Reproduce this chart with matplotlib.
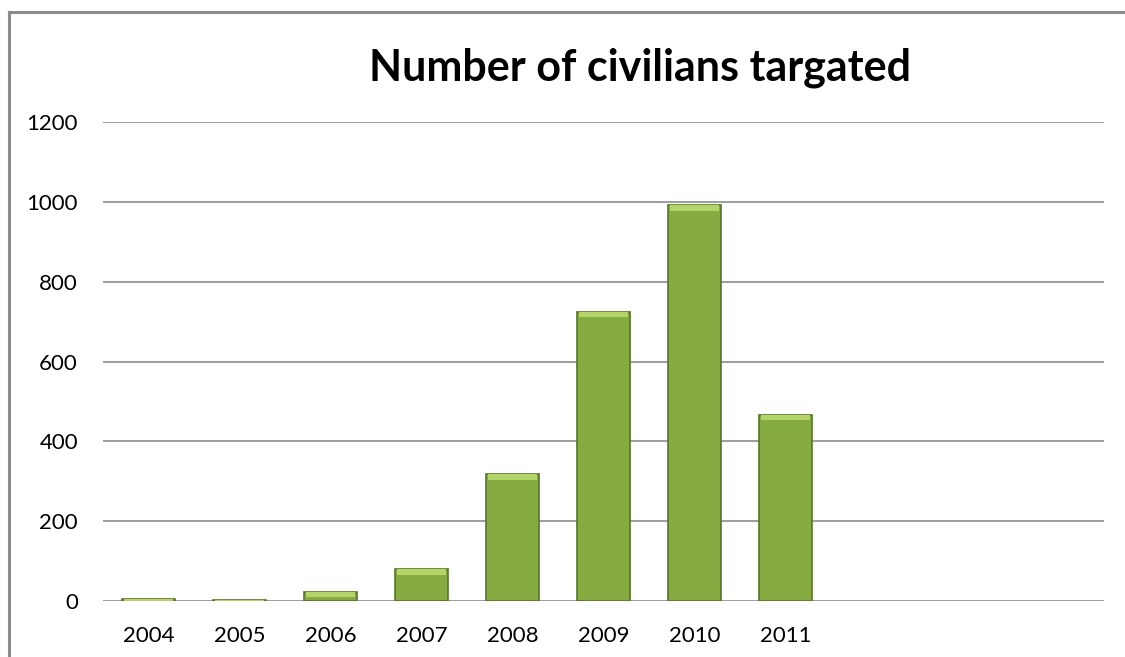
import matplotlib.pyplot as plt
from matplotlib.lines import Line2D

# Data
years = ["2004", "2005", "2006", "2007", "2008", "2009", "2010", "2011", "", "", ""]
civilians = [4, 3, 23, 80, 317, 725, 992, 467]
y_ticks = [0, 200, 400, 600, 800, 1000, 1200]

plt.rcParams['font.family'] = ['Lato', 'DejaVu Sans']

fig = plt.figure(figsize=(11.25, 6.57), dpi=100)
W, H = 1125, 657

# outer chart frame: only the top and left edges are visible
fy = 1 - 12 / H
fx = 9 / W
fig.lines.append(Line2D([fx, 1.0], [fy, fy], transform=fig.transFigure,
                        color='#8c8c8c', linewidth=2.2))
fig.lines.append(Line2D([fx, fx], [0.0, fy], transform=fig.transFigure,
                        color='#8c8c8c', linewidth=2.2))

ax = fig.add_axes([103 / W, (H - 601) / H, (1104 - 103) / W, (601 - 122) / H])
x = list(range(len(years)))
xb = x[:len(civilians)]

ax.bar(xb, civilians, width=0.58, color='#86ac41', edgecolor='#56752a',
       linewidth=1.2, zorder=3)

# lighter bevel strip on top of each bar
strip = 14
tops = [max(v - strip, 0) for v in civilians]
heights = [min(strip, v) for v in civilians]
ax.bar(xb, heights, bottom=tops, width=0.58 * 0.94, color='#b4d46a',
       edgecolor='none', zorder=4)

ax.set_xlim(-0.5, len(years) - 0.5)
ax.set_ylim(0, 1200)
ax.set_yticks(y_ticks)
ax.set_yticklabels([str(t) for t in y_ticks])
ax.set_xticks(x)
ax.set_xticklabels(years)
ax.grid(axis='y', color='#8c8c8c', linewidth=1.2, zorder=0)
for s in ax.spines.values():
    s.set_visible(False)
ax.tick_params(axis='both', length=0, labelsize=16, colors='#000000')
ax.tick_params(axis='y', pad=18)
ax.tick_params(axis='x', pad=18)

fig.text(640 / W, 1 - 68 / H, "Number of civilians targated", ha='center',
         va='center', fontsize=31, fontweight='bold')

fig.savefig("out.png", dpi=100)
